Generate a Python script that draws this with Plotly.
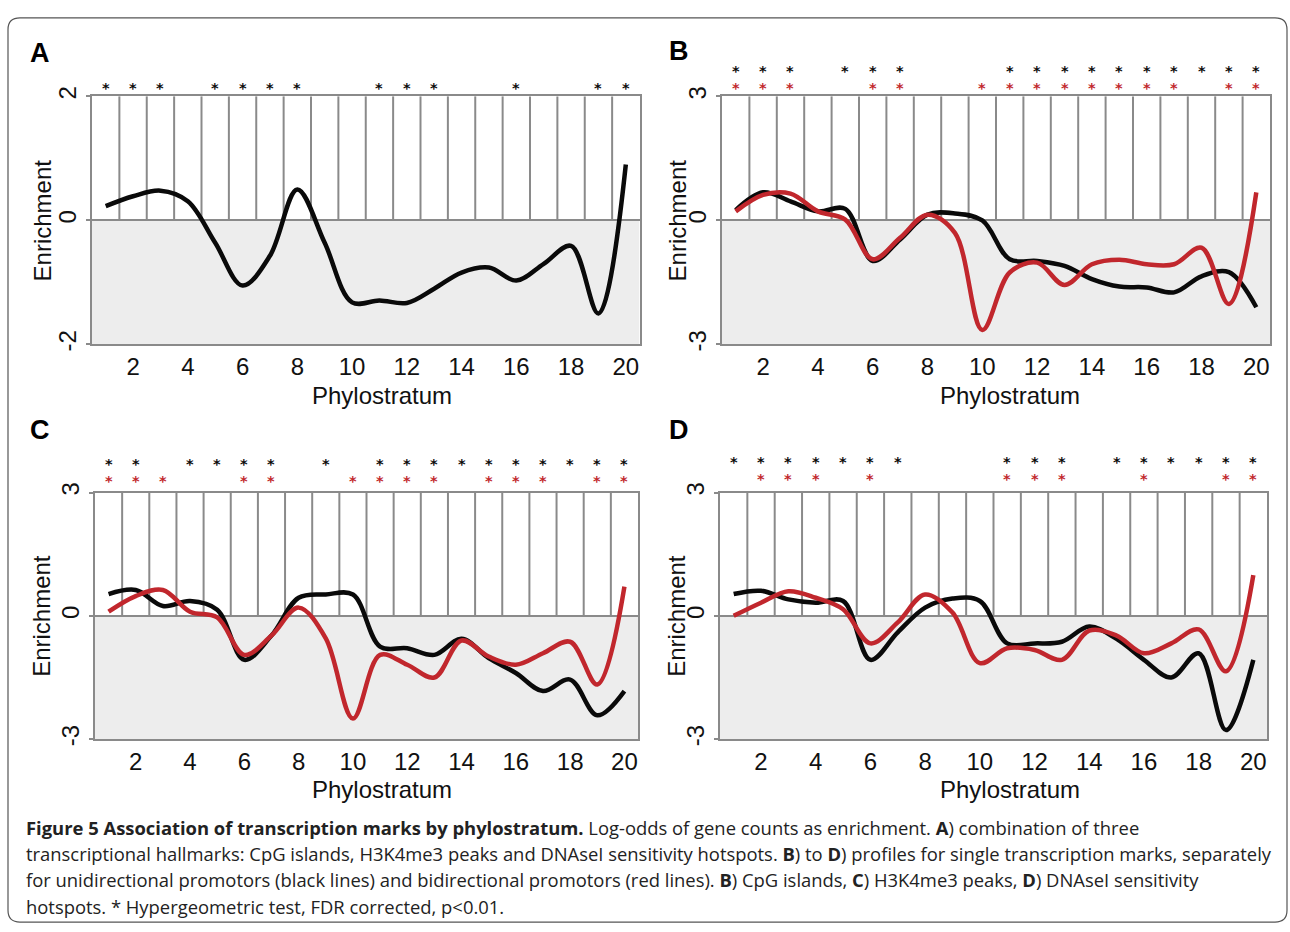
import plotly.graph_objects as go

# ---------------- data ----------------
phylostrata = list(range(1, 21))
x_tick_labels = [2, 4, 6, 8, 10, 12, 14, 16, 18, 20]

a_black = [0.23, 0.39, 0.48, 0.31, -0.36, -1.05, -0.57, 0.50, -0.36, -1.32,
           -1.29, -1.33, -1.10, -0.84, -0.76, -0.97, -0.70, -0.41, -1.50, 0.90]

b_black = [0.25, 0.68, 0.46, 0.22, 0.28, -0.98, -0.46, 0.14, 0.17, 0.00,
           -0.94, -0.98, -1.10, -1.42, -1.60, -1.62, -1.74, -1.35, -1.25, -2.10]
b_red = [0.22, 0.62, 0.65, 0.22, 0.02, -0.94, -0.42, 0.14, -0.30, -2.65,
         -1.26, -1.02, -1.56, -1.06, -0.95, -1.06, -1.06, -0.66, -2.02, 0.68]

c_black = [0.53, 0.63, 0.24, 0.36, 0.15, -1.07, -0.48, 0.44, 0.52, 0.52,
           -0.75, -0.79, -0.95, -0.56, -1.03, -1.39, -1.83, -1.55, -2.42, -1.83]
c_red = [0.10, 0.48, 0.63, 0.10, -0.04, -0.95, -0.48, 0.20, -0.55, -2.50,
         -0.95, -1.19, -1.50, -0.60, -0.99, -1.19, -0.91, -0.63, -1.67, 0.71]

d_black = [0.53, 0.61, 0.40, 0.32, 0.36, -1.07, -0.40, 0.20, 0.42, 0.36,
           -0.67, -0.67, -0.63, -0.26, -0.56, -1.07, -1.50, -0.91, -2.78, -1.07]
d_red = [0.00, 0.32, 0.60, 0.44, 0.16, -0.67, -0.16, 0.52, 0.08, -1.15,
         -0.79, -0.83, -1.07, -0.36, -0.48, -0.91, -0.67, -0.33, -1.35, 0.99]

# significance (* Hypergeometric test) per phylostratum
a_sig_black = [1, 2, 3, 5, 6, 7, 8, 11, 12, 13, 16, 19, 20]
b_sig_black = [1, 2, 3, 5, 6, 7, 11, 12, 13, 14, 15, 16, 17, 18, 19, 20]
b_sig_red = [1, 2, 3, 6, 7, 10, 11, 12, 13, 14, 15, 16, 17, 19, 20]
c_sig_black = [1, 2, 4, 5, 6, 7, 9, 11, 12, 13, 14, 15, 16, 17, 18, 19, 20]
c_sig_red = [1, 2, 3, 6, 7, 10, 11, 12, 13, 15, 16, 17, 19, 20]
d_sig_black = [1, 2, 3, 4, 5, 6, 7, 11, 12, 13, 15, 16, 17, 18, 19, 20]
d_sig_red = [2, 3, 4, 6, 11, 12, 13, 16, 19, 20]

caption_lines = [
    "<b>Figure 5 Association of transcription marks by phylostratum.</b> Log-odds of gene counts as enrichment. <b>A</b>) combination of three",
    "transcriptional hallmarks: CpG islands, H3K4me3 peaks and DNAseI sensitivity hotspots. <b>B</b>) to <b>D</b>) profiles for single transcription marks, separately",
    "for unidirectional promotors (black lines) and bidirectional promotors (red lines). <b>B</b>) CpG islands, <b>C</b>) H3K4me3 peaks, <b>D</b>) DNAseI sensitivity",
    "hotspots. * Hypergeometric test, FDR corrected, p&lt;0.01.",
]

# ---------------- styling ----------------
W, H = 1290, 932
GRID = "#8a8a8a"
SHADE = "#ededed"
BLACK = "#0a0a0a"
RED = "#c1272d"
FONT = "Liberation Sans, Arial, sans-serif"
STAR_FONT = "DejaVu Sans, sans-serif"
NBSP = "\u00a0"


def px_x(v):
    return v / W


def px_y(v):
    return 1 - v / H


def star(color):
    return (f'<span style="color:{color};font-size:14.5px;font-weight:bold">'
            f'*</span>')


panels = [
    dict(letter="A", frame=(92, 639.5, 88, 340.7), yr=2,
         series=[(a_black, BLACK)], sig_black=a_sig_black, sig_red=None,
         star_shift=-2, letter_pos=(40, 44), enrich_x=42, phylo_x=382, phylo_y=393),
    dict(letter="B", frame=(722, 1270, 88, 340.7), yr=3,
         series=[(b_black, BLACK), (b_red, RED)],
         sig_black=b_sig_black, sig_red=b_sig_red, star_shift=-2,
         letter_pos=(679, 42), enrich_x=677, phylo_x=1010, phylo_y=393),
    dict(letter="C", frame=(95, 638, 491.5, 742.7), yr=3,
         series=[(c_black, BLACK), (c_red, RED)],
         sig_black=c_sig_black, sig_red=c_sig_red, star_shift=2,
         letter_pos=(40, 428), enrich_x=42, phylo_x=382, phylo_y=794),
    dict(letter="D", frame=(720, 1267, 491.5, 742.7), yr=3,
         series=[(d_black, BLACK), (d_red, RED)],
         sig_black=d_sig_black, sig_red=d_sig_red, star_shift=4,
         letter_pos=(679, 428), enrich_x=677, phylo_x=1010, phylo_y=794),
]

fig = go.Figure()
shapes = []
annotations = []

for i, p in enumerate(panels, start=1):
    xa = "x" if i == 1 else f"x{i}"
    ya = "y" if i == 1 else f"y{i}"
    xkey = "xaxis" if i == 1 else f"xaxis{i}"
    ykey = "yaxis" if i == 1 else f"yaxis{i}"
    x0, x1, y0, y1 = p["frame"]
    yr = p["yr"]

    fig.update_layout({
        xkey: dict(domain=[px_x(x0), px_x(x1)], anchor=ya, range=[0.5, 20.5],
                   tickmode="array", tickvals=x_tick_labels,
                   ticktext=[str(v) for v in x_tick_labels],
                   ticks="", showgrid=False, zeroline=False,
                   showline=True, mirror=True, linecolor=GRID, linewidth=2,
                   tickfont=dict(family=FONT, size=24, color="#111"),
                   fixedrange=True),
        ykey: dict(domain=[px_y(y1), px_y(y0)], anchor=xa, range=[-yr, yr],
                   tickmode="array", tickvals=[-yr, 0, yr],
                   ticktext=[str(-yr), "0", str(yr)], tickangle=-90,
                   ticks="outside", ticklen=4, tickwidth=2, tickcolor=GRID,
                   showgrid=False, zeroline=True, zerolinecolor=GRID,
                   zerolinewidth=2, showline=True, mirror=True,
                   linecolor=GRID, linewidth=2,
                   tickfont=dict(family=FONT, size=24, color="#111"),
                   fixedrange=True),
    })

    # shaded negative half
    shapes.append(dict(type="rect", xref=xa, yref=ya, x0=0.5, x1=20.5,
                       y0=-yr, y1=0, fillcolor=SHADE, line=dict(width=0),
                       layer="below"))
    # column separators
    for k in phylostrata[:-1]:
        shapes.append(dict(type="line", xref=xa, yref=f"{ya} domain",
                           x0=k + 0.5, x1=k + 0.5, y0=0, y1=1,
                           line=dict(color=GRID, width=2), layer="below"))

    for vals, col in p["series"]:
        fig.add_trace(go.Scatter(x=phylostrata, y=vals, mode="lines",
                                 line=dict(color=col, width=4.5,
                                           shape="spline", smoothing=1.0),
                                 xaxis=xa, yaxis=ya, showlegend=False,
                                 hoverinfo="skip"))

    # significance asterisks: one stacked label per phylostratum
    sb = set(p["sig_black"])
    sr = set(p["sig_red"]) if p["sig_red"] is not None else None
    for s in phylostrata:
        if sr is None:
            if s not in sb:
                continue
            text = star(BLACK)
        else:
            if s not in sb and s not in sr:
                continue
            top = star(BLACK) if s in sb else NBSP
            bot = star(RED) if s in sr else NBSP
            text = f"{top}<br>{bot}"
        annotations.append(dict(x=s, y=1, xref=xa, yref=f"{ya} domain",
                                text=text, showarrow=False,
                                xanchor="center", yanchor="bottom",
                                yshift=p["star_shift"],
                                font=dict(family=STAR_FONT, size=13,
                                          color=BLACK)))

    lx, ly = p["letter_pos"]
    annotations.append(dict(x=px_x(lx), y=px_y(ly), xref="paper", yref="paper",
                            text=f"<b>{p['letter']}</b>", showarrow=False,
                            xanchor="center", yanchor="middle",
                            font=dict(family=FONT, size=27, color="#000")))
    annotations.append(dict(x=px_x(p["enrich_x"]), y=px_y((y0 + y1) / 2),
                            xref="paper", yref="paper", text="Enrichment",
                            textangle=-90, showarrow=False,
                            xanchor="center", yanchor="middle",
                            font=dict(family=FONT, size=24, color="#111")))
    annotations.append(dict(x=px_x(p["phylo_x"]), y=px_y(p["phylo_y"]),
                            xref="paper", yref="paper", text="Phylostratum",
                            showarrow=False, xanchor="center", yanchor="middle",
                            font=dict(family=FONT, size=24, color="#111")))

# caption
cap_y = [833, 859, 886, 913]
for line, yy in zip(caption_lines, cap_y):
    annotations.append(dict(x=px_x(24), y=px_y(yy), xref="paper", yref="paper",
                            text=line, showarrow=False, xanchor="left",
                            yanchor="middle", align="left",
                            font=dict(family="Open Sans, sans-serif", size=18.4,
                                      color="#222")))

# outer rounded border
bx0, bx1, by0, by1 = px_x(8), px_x(1287), px_y(8), px_y(929)
rx, ry = 12 / W, 12 / H
path = (f"M {bx0 + rx},{by0} L {bx1 - rx},{by0} Q {bx1},{by0} {bx1},{by0 - ry} "
        f"L {bx1},{by1 + ry} Q {bx1},{by1} {bx1 - rx},{by1} "
        f"L {bx0 + rx},{by1} Q {bx0},{by1} {bx0},{by1 + ry} "
        f"L {bx0},{by0 - ry} Q {bx0},{by0} {bx0 + rx},{by0} Z")
shapes.append(dict(type="path", xref="paper", yref="paper", path=path,
                   line=dict(color="#555", width=1.2), layer="above"))

fig.update_layout(width=W, height=H, margin=dict(l=0, r=0, t=0, b=0),
                  paper_bgcolor="white", plot_bgcolor="white",
                  shapes=shapes, annotations=annotations, showlegend=False)

pin_js = (
    "var gd = document.getElementById('{plot_id}');"
    "gd.style.position = 'fixed'; gd.style.left = '0px'; gd.style.top = '0px';"
    "gd.style.zIndex = '10';"
    "document.body.style.margin = '0px';"
    "document.body.style.overflow = 'hidden';"
    "document.documentElement.style.overflow = 'hidden';"
)
fig.write_html("out.html", config={"displayModeBar": False}, post_script=pin_js)
